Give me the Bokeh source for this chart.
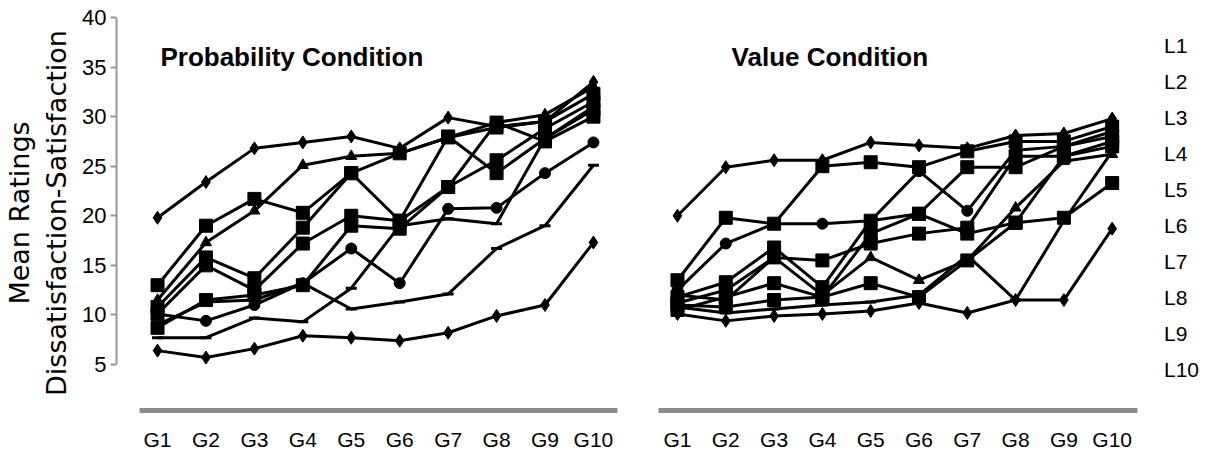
from bokeh.plotting import figure
from bokeh.layouts import row
from bokeh.models import Range1d, FixedTicker, Label, Legend, LegendItem
from bokeh.embed import file_html
from bokeh.resources import INLINE

# ---------------- data ----------------
groups = ["G1", "G2", "G3", "G4", "G5", "G6", "G7", "G8", "G9", "G10"]
series_names = ["L1", "L2", "L3", "L4", "L5", "L6", "L7", "L8", "L9", "L10"]

# Probability condition
prob_L1 = [19.8, 23.4, 26.8, 27.4, 28.0, 26.8, 29.9, 29.0, 29.5, 33.5]
prob_L2 = [11.5, 17.3, 20.5, 25.1, 26.0, 26.3, 27.9, 29.4, 30.2, 33.0]
prob_L3 = [13.0, 19.0, 21.7, 20.3, 24.3, 26.3, 27.9, 28.9, 29.5, 32.3]
prob_L4 = [10.8, 15.8, 13.7, 18.8, 24.3, 19.5, 22.9, 25.6, 28.8, 31.5]
prob_L5 = [10.1, 15.0, 12.5, 17.2, 20.0, 19.5, 28.0, 24.3, 27.8, 30.7]
prob_L6 = [8.7, 11.5, 12.0, 13.0, 19.0, 18.7, 22.9, 29.4, 27.5, 30.0]
prob_L7 = [10.1, 9.4, 11.0, 13.2, 16.7, 13.2, 20.7, 20.8, 24.3, 27.4]
prob_L8 = [7.7, 7.7, 9.7, 9.3, 12.7, 19.0, 19.7, 19.2, 27.8, 31.0]
prob_L9 = [9.0, 11.3, 11.5, 13.2, 10.6, 11.3, 12.1, 16.7, 19.0, 25.1]
prob_L10 = [6.4, 5.7, 6.6, 7.9, 7.7, 7.4, 8.2, 9.9, 11.0, 17.3]

# Value condition
val_L1 = [20.0, 24.9, 25.6, 25.6, 27.4, 27.1, 26.8, 28.1, 28.3, 29.8]
val_L2 = [13.5, 19.8, 19.2, 25.0, 25.4, 24.9, 26.5, 27.5, 27.5, 29.0]
val_L3 = [12.5, 17.2, 19.2, 19.2, 19.5, 24.5, 20.5, 26.6, 27.0, 28.5]
val_L4 = [11.8, 13.3, 16.8, 12.8, 19.5, 20.2, 24.9, 24.9, 27.0, 28.0]
val_L5 = [11.2, 12.5, 15.8, 15.5, 17.2, 18.2, 18.8, 26.0, 26.0, 27.5]
val_L6 = [10.5, 11.8, 13.2, 11.8, 18.2, 20.2, 18.2, 19.3, 26.0, 27.0]
val_L7 = [12.0, 11.5, 15.8, 12.0, 15.8, 13.5, 15.5, 20.8, 25.5, 26.2]
val_L8 = [11.0, 10.8, 11.5, 11.8, 13.2, 11.8, 15.5, 19.3, 19.8, 23.3]
val_L9 = [10.8, 10.2, 10.6, 11.0, 11.3, 12.0, 16.0, 11.5, 19.5, 26.5]
val_L10 = [10.1, 9.4, 9.9, 10.1, 10.4, 11.2, 10.2, 11.5, 11.5, 18.7]

prob_markers = ["diamond", "triangle", "square", "square", "square",
                "square", "circle", "dash", "dash", "diamond"]
val_markers = ["diamond", "square", "circle", "square", "square",
               "square", "triangle", "square", "dash", "diamond"]

y_ticks = [5, 10, 15, 20, 25, 30, 35, 40]

prob_series = [prob_L1, prob_L2, prob_L3, prob_L4, prob_L5,
               prob_L6, prob_L7, prob_L8, prob_L9, prob_L10]
val_series = [val_L1, val_L2, val_L3, val_L4, val_L5,
              val_L6, val_L7, val_L8, val_L9, val_L10]

# ---------------- style ----------------
FONT = "Liberation Sans"
xs = list(range(1, len(groups) + 1))
marker_sizes = {"diamond": 13, "square": 13, "circle": 11, "triangle": 11, "dash": 11}


def style_xaxis(p, bounds):
    ax = p.xaxis[0]
    ax.ticker = FixedTicker(ticks=xs)
    ax.major_label_overrides = {x: g for x, g in zip(xs, groups)}
    ax.axis_line_color = "#8c8c8c"
    ax.axis_line_width = 5
    ax.major_tick_line_color = None
    ax.minor_tick_line_color = None
    ax.bounds = bounds
    ax.major_label_standoff = 11
    ax.major_label_text_font = FONT
    ax.major_label_text_font_size = "21px"
    ax.major_label_text_color = "black"


def draw_series(p, series, markers):
    for ys, m in zip(series, markers):
        p.line(xs, ys, line_color="black", line_width=3)
        p.scatter(xs, ys, marker=m, size=marker_sizes[m],
                  fill_color="black", line_color="black", line_width=3 if m == "dash" else 1)


# ---------------- left panel ----------------
p1 = figure(frame_width=506, frame_height=395,
            x_range=Range1d(0.153, 10.6), y_range=Range1d(0.36, 40.2),
            output_backend="svg", toolbar_location=None,
            min_border_left=114, min_border_right=0, min_border_top=15, min_border_bottom=0)
p1.grid.visible = False
p1.outline_line_color = None
style_xaxis(p1, (0.63, 10.5))

ya = p1.yaxis[0]
ya.ticker = FixedTicker(ticks=y_ticks)
ya.bounds = (5, 40)
ya.axis_line_color = "#999999"
ya.axis_line_width = 2
ya.major_tick_line_color = "#999999"
ya.major_tick_line_width = 2
ya.major_tick_out = 6
ya.major_tick_in = 0
ya.minor_tick_line_color = None
ya.major_label_text_font = FONT
ya.major_label_text_font_size = "22px"
ya.major_label_text_color = "black"
ya.major_label_standoff = 4
ya.axis_label = "Mean Ratings\nDissatisfaction-Satisfaction"
ya.axis_label_text_font = "DejaVu Sans"
ya.axis_label_text_font_size = "27px"
ya.axis_label_text_font_style = "normal"
ya.axis_label_text_color = "black"
ya.axis_label_standoff = 7

draw_series(p1, prob_series, prob_markers)
p1.add_layout(Label(x=1.06, y=36.0, text="Probability Condition",
                    text_font=FONT, text_font_size="26px", text_font_style="bold",
                    text_color="black", text_baseline="alphabetic"))

# ---------------- right panel ----------------
p2 = figure(frame_width=483, frame_height=395,
            x_range=Range1d(0.607, 10.607), y_range=Range1d(0.36, 40.2),
            output_backend="svg", toolbar_location=None, y_axis_location=None,
            min_border_left=36, min_border_right=0, min_border_top=15, min_border_bottom=0)
p2.grid.visible = False
p2.outline_line_color = None
style_xaxis(p2, (0.61, 10.52))

draw_series(p2, val_series, val_markers)
p2.add_layout(Label(x=2.12, y=36.0, text="Value Condition",
                    text_font=FONT, text_font_size="26px", text_font_style="bold",
                    text_color="black", text_baseline="alphabetic"))

# legend: text-only entries
items = []
for name in series_names:
    r = p2.line(x=[], y=[], line_alpha=0)
    items.append(LegendItem(label=name, renderers=[r]))
legend = Legend(items=items, margin=13, padding=10, glyph_width=5, glyph_height=36,
                label_height=36, label_standoff=5, spacing=0,
                border_line_color=None, background_fill_alpha=0,
                label_text_font=FONT, label_text_font_size="21px",
                label_text_color="black", location="top_left")
p2.add_layout(legend, "right")

layout = row(p1, p2)
open("out.html", "w").write(file_html(layout, INLINE))
